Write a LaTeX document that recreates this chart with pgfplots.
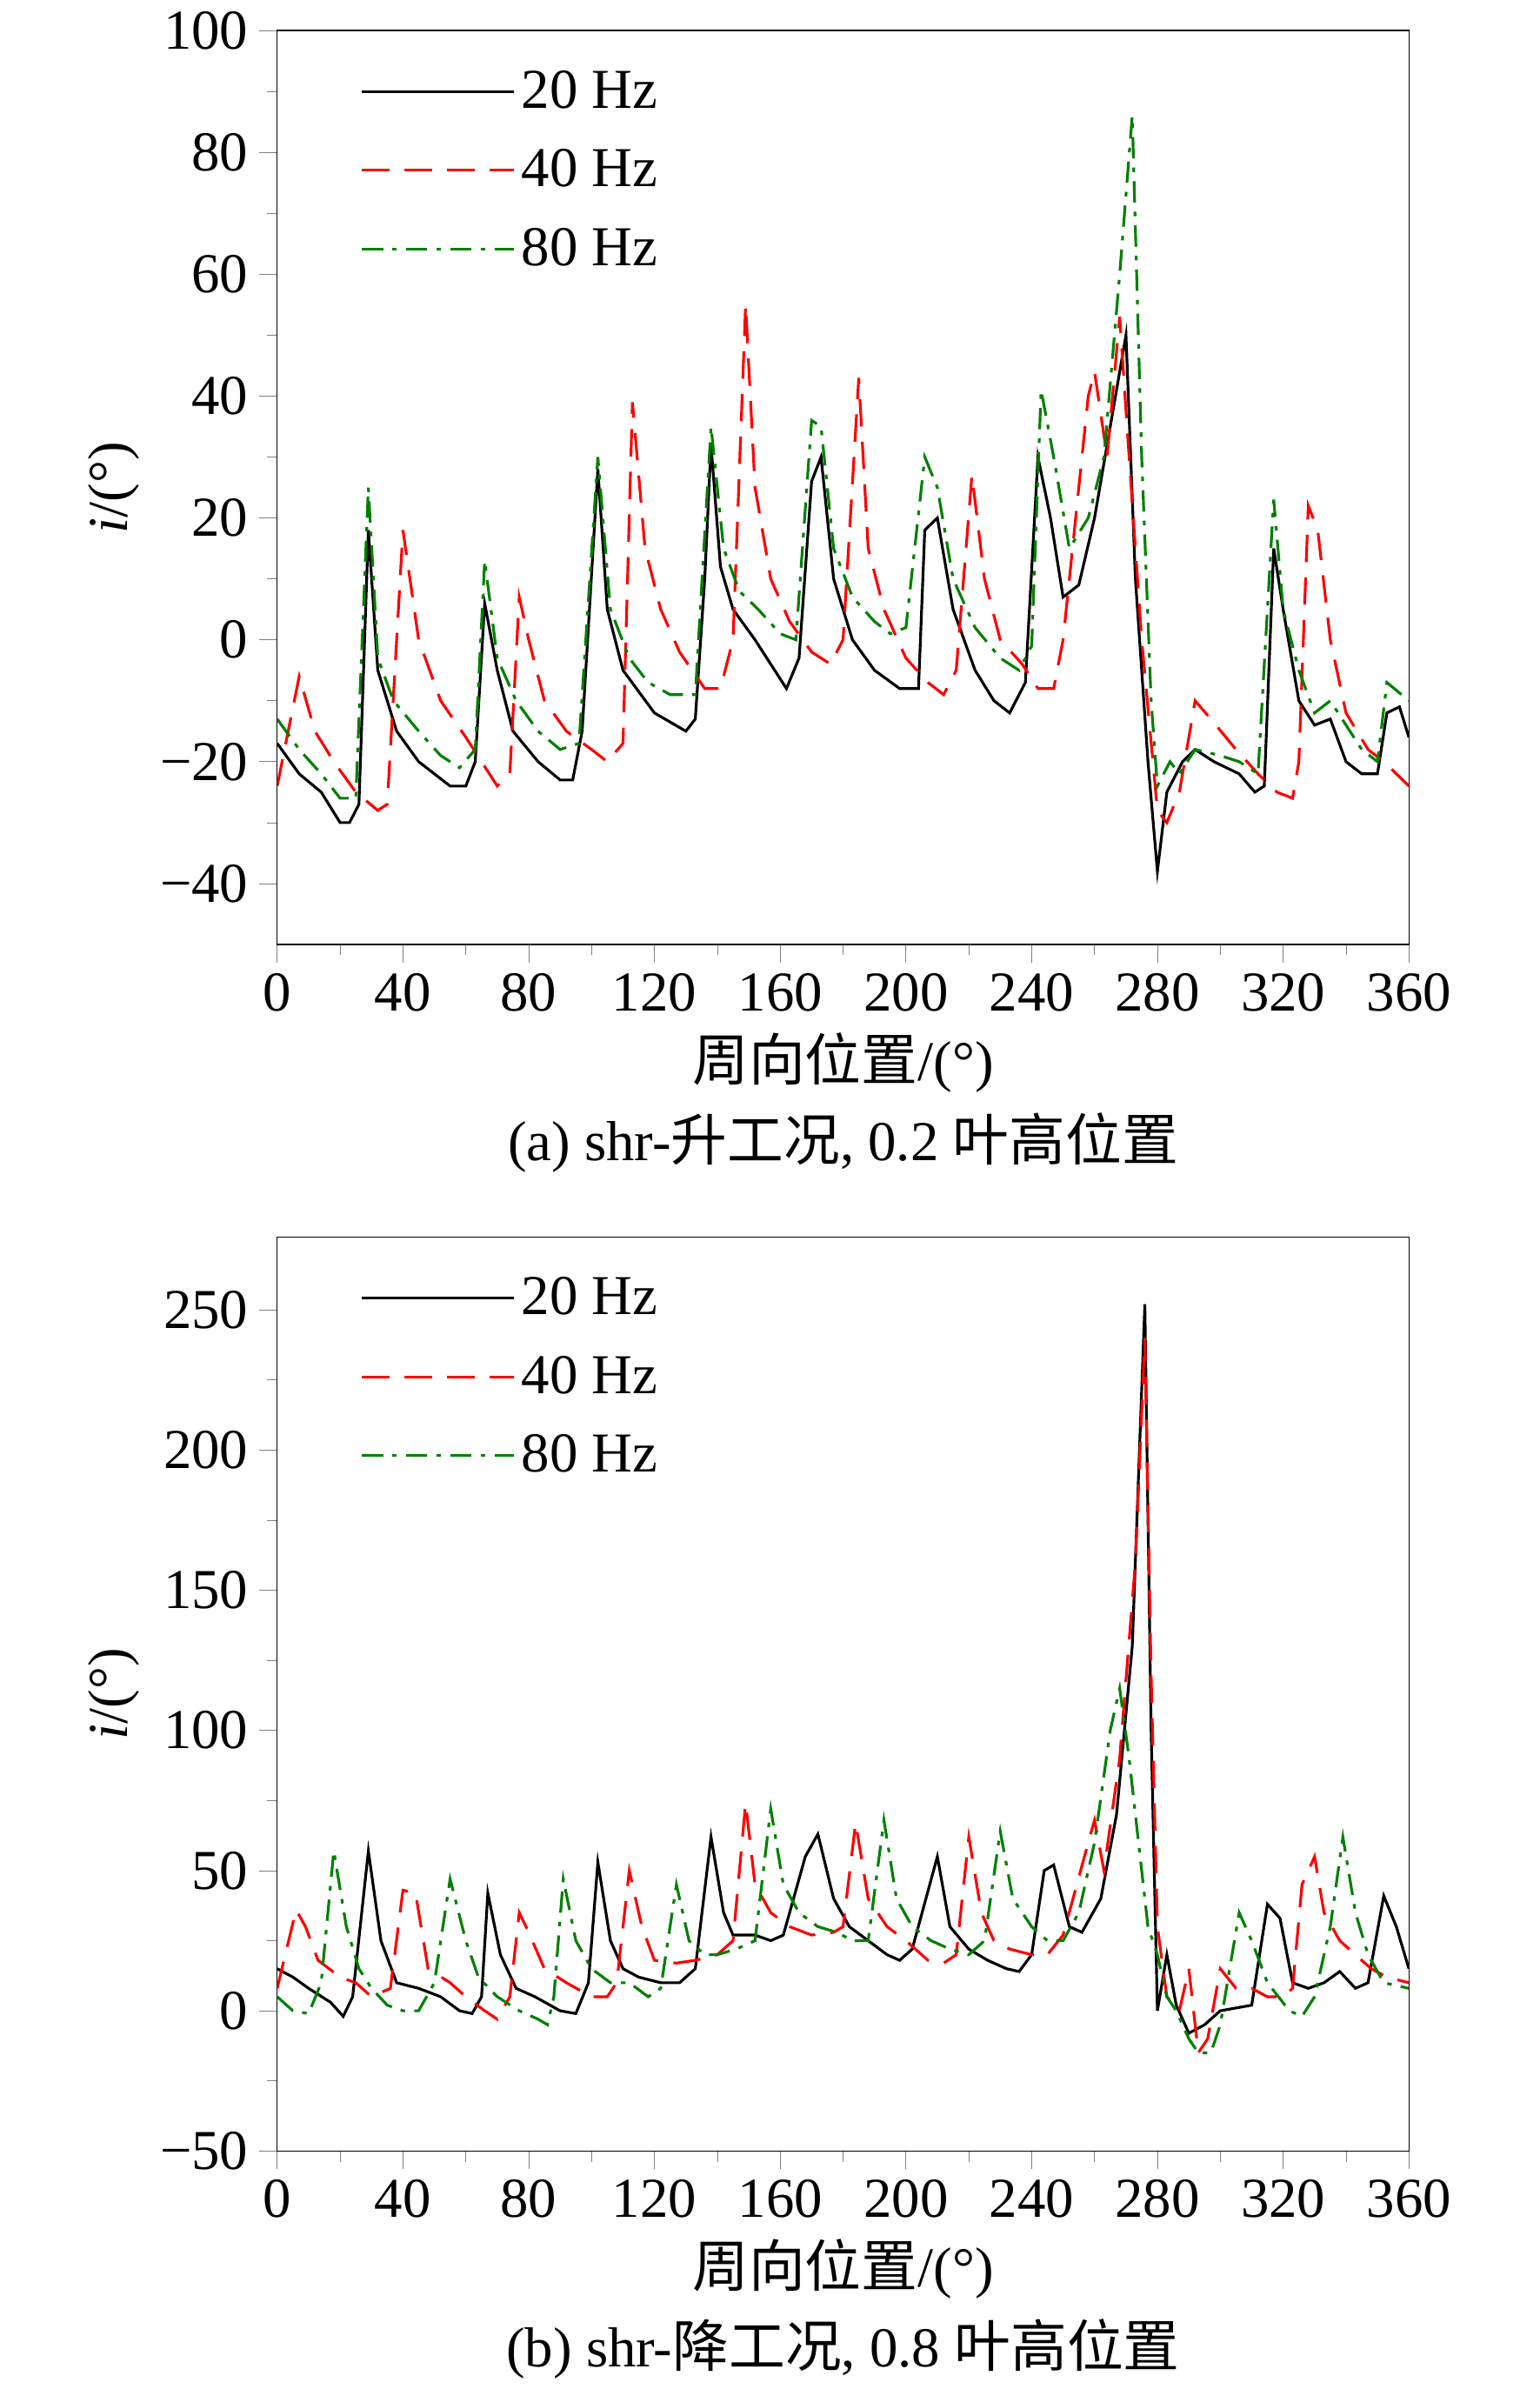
\documentclass[border=0pt]{standalone}
\usepackage{pgfplots}
\pgfplotsset{compat=1.18}
\usepackage{fontspec}
\setmainfont{Liberation Serif}
\newfontfamily\cjk{Noto Sans CJK SC}
\definecolor{dgreen}{RGB}{0,128,0}
\pgfplotsset{
 myax/.style={width=371.5pt,height=300pt,scale only axis,xmin=0,xmax=360,
  xtick={0,40,...,360},minor x tick num=1,minor y tick num=1,
  tick align=outside,xtick pos=bottom,ytick pos=left,
  major tick length=6pt,minor tick length=3.5pt,
  tick label style={font=\fontsize{18.5}{21}\selectfont},
  label style={font=\fontsize{18.5}{21}\selectfont},
  /pgf/number format/assume math mode=true,
  xlabel={{\cjk 周向位置}/(°)},ylabel={\textit{i}/(°)},
  legend style={at={(0.065,0.97)},anchor=north west,draw=none,fill=none,font=\fontsize{18.5}{21}\selectfont,row sep=8pt},
  legend cell align=left,
  legend image code/.code={\draw[#1] (0pt,0pt) -- (50pt,0pt);},
 },
 b/.style={black,line width=0.9pt},
 r/.style={red,line width=0.9pt,dash pattern=on 9pt off 5pt},
 g/.style={dgreen,line width=0.9pt,dash pattern=on 7pt off 3pt on 1.5pt off 3pt},
}
\begin{document}
\begin{tikzpicture}
\begin{axis}[myax,ymin=-50,ymax=100,ytick={-40,-20,...,100},yticklabels={−40,−20,0,20,40,60,80,100},name=a]
\addplot[b] coordinates {(0,-17)(7,-22)(14,-25)(20,-30)(23,-30)(26,-27)(29,18)(32,-5)(38,-15)(45,-20)(50,-22)(55,-24)(60,-24)(63,-20)(66,6)(70,-5)(75,-15)(83,-20)(90,-23)(94,-23)(97,-15)(102,28)(105,5)(110,-5)(120,-12)(130,-15)(133,-13)(136,10)(138,32)(141,12)(145,5)(152,0)(162,-8)(166,-3)(170,26)(173,30)(177,10)(183,0)(190,-5)(198,-8)(204,-8)(206,18)(210,20)(215,5)(222,-5)(228,-10)(233,-12)(238,-7)(242,30)(246,20)(250,7)(255,9)(260,20)(265,35)(270,50)(273,10)(277,-20)(280,-38)(283,-25)(288,-20)(292,-18)(298,-20)(306,-22)(311,-25)(314,-24)(317,15)(320,5)(325,-10)(330,-14)(335,-13)(340,-20)(345,-22)(350,-22)(353,-12)(357,-11)(360,-16)};
\addlegendentry{20 Hz}
\addplot[r] coordinates {(0,-24)(7,-6)(12,-15)(18,-20)(25,-25)(32,-28)(35,-27)(40,18)(45,0)(52,-10)(60,-16)(65,-20)(70,-24)(74,-22)(77,7)(80,0)(85,-10)(92,-15)(100,-18)(105,-20)(110,-17)(113,39)(117,15)(122,5)(128,-2)(136,-8)(141,-8)(145,0)(149,55)(152,25)(157,10)(163,3)(170,-2)(176,-4)(180,0)(185,43)(188,15)(193,5)(200,-3)(207,-7)(212,-9)(216,-5)(221,27)(225,10)(230,0)(237,-4)(242,-8)(247,-8)(250,0)(258,40)(260,44)(264,30)(268,53)(271,30)(275,0)(280,-28)(283,-30)(287,-25)(292,-10)(297,-13)(305,-18)(312,-22)(318,-25)(323,-26)(325,-20)(328,22)(331,18)(335,0)(340,-12)(347,-18)(352,-20)(360,-24)};
\addlegendentry{40 Hz}
\addplot[g] coordinates {(0,-13)(7,-18)(14,-22)(20,-26)(25,-26)(29,25)(32,-3)(37,-10)(45,-15)(52,-19)(58,-21)(63,-18)(66,13)(70,-3)(76,-10)(83,-15)(90,-18)(96,-17)(102,30)(106,5)(112,-3)(118,-7)(125,-9)(133,-9)(138,35)(142,15)(147,8)(153,5)(160,1)(165,0)(170,36)(173,35)(177,15)(183,7)(190,3)(195,1)(200,2)(206,30)(210,25)(215,10)(222,2)(230,-3)(236,-5)(240,-1)(243,41)(247,30)(252,15)(258,20)(263,30)(268,60)(272,86)(275,30)(278,-10)(280,-24)(284,-20)(287,-22)(292,-18)(300,-19)(306,-20)(312,-22)(317,23)(320,5)(325,-5)(330,-12)(335,-10)(340,-14)(345,-18)(350,-20)(353,-7)(360,-10)};
\addlegendentry{80 Hz}
\end{axis}
\node[font=\fontsize{18.5}{21}\selectfont] at ([yshift=-65pt]a.south) {(a) shr-{\cjk 升工况}, 0.2 {\cjk 叶高位置}};
\begin{axis}[myax,ymin=-50,ymax=276,ytick={-50,0,...,250},yticklabels={−50,0,50,100,150,200,250},yshift=-396pt,name=bb]
\addplot[b] coordinates {(0,15)(5,12)(10,8)(17,3)(21,-2)(24,5)(29,57)(33,25)(38,10)(45,8)(52,5)(58,0)(62,-1)(65,5)(67,42)(71,20)(76,8)(82,5)(90,0)(95,-1)(99,10)(102,53)(106,25)(110,15)(115,12)(122,10)(128,10)(133,15)(138,62)(142,35)(145,27)(152,27)(157,25)(161,27)(168,55)(172,63)(177,40)(182,30)(188,25)(194,20)(198,18)(202,22)(210,55)(214,30)(220,22)(226,18)(232,15)(236,14)(240,20)(244,50)(247,52)(252,30)(256,28)(262,40)(267,70)(272,130)(276,252)(278,100)(280,0)(283,20)(286,2)(290,-8)(295,-5)(300,0)(305,1)(310,2)(315,38)(319,33)(323,10)(328,8)(333,10)(338,14)(343,8)(347,10)(352,41)(356,30)(360,15)};
\addlegendentry{20 Hz}
\addplot[r] coordinates {(0,8)(6,36)(9,30)(13,18)(20,12)(25,10)(30,5)(36,8)(40,43)(44,42)(48,15)(55,10)(60,5)(66,0)(70,-3)(74,5)(77,35)(80,28)(85,15)(92,10)(100,5)(105,5)(108,10)(112,50)(116,30)(120,18)(127,17)(133,18)(140,20)(145,25)(149,74)(152,45)(157,35)(163,30)(170,27)(177,28)(180,30)(184,67)(188,40)(194,30)(200,25)(207,18)(212,17)(216,20)(220,62)(224,35)(228,25)(233,22)(240,20)(245,20)(250,27)(258,60)(260,68)(263,50)(268,90)(273,160)(276,240)(278,120)(280,30)(283,5)(287,0)(290,15)(293,-15)(296,-10)(300,15)(305,8)(310,8)(315,5)(320,5)(323,8)(326,45)(330,55)(333,35)(338,25)(343,20)(348,15)(353,12)(360,10)};
\addlegendentry{40 Hz}
\addplot[g] coordinates {(0,5)(5,0)(10,-1)(14,10)(18,57)(22,30)(26,15)(30,8)(35,2)(40,0)(45,0)(50,10)(55,47)(60,25)(64,12)(70,5)(77,0)(83,-3)(86,-5)(88,5)(91,47)(95,25)(100,15)(106,10)(112,10)(118,5)(122,8)(127,45)(131,25)(136,20)(140,20)(146,22)(152,25)(157,72)(161,45)(166,35)(172,30)(178,28)(183,25)(188,25)(193,68)(197,40)(202,30)(208,25)(214,22)(220,20)(225,25)(230,64)(234,40)(240,30)(245,25)(250,25)(255,35)(260,60)(265,100)(268,115)(271,90)(274,60)(277,30)(280,20)(283,5)(286,0)(290,-10)(293,-15)(297,-15)(300,-5)(306,35)(310,25)(315,10)(322,0)(326,-2)(330,5)(335,30)(339,62)(343,35)(347,20)(352,10)(360,8)};
\addlegendentry{80 Hz}
\end{axis}
\node[font=\fontsize{18.5}{21}\selectfont] at ([yshift=-65pt]bb.south) {(b) shr-{\cjk 降工况}, 0.8 {\cjk 叶高位置}};
\path ([xshift=-91pt,yshift=10pt]a.north west) rectangle ([xshift=43pt,yshift=-78pt]bb.south east);
\end{tikzpicture}
\end{document}
